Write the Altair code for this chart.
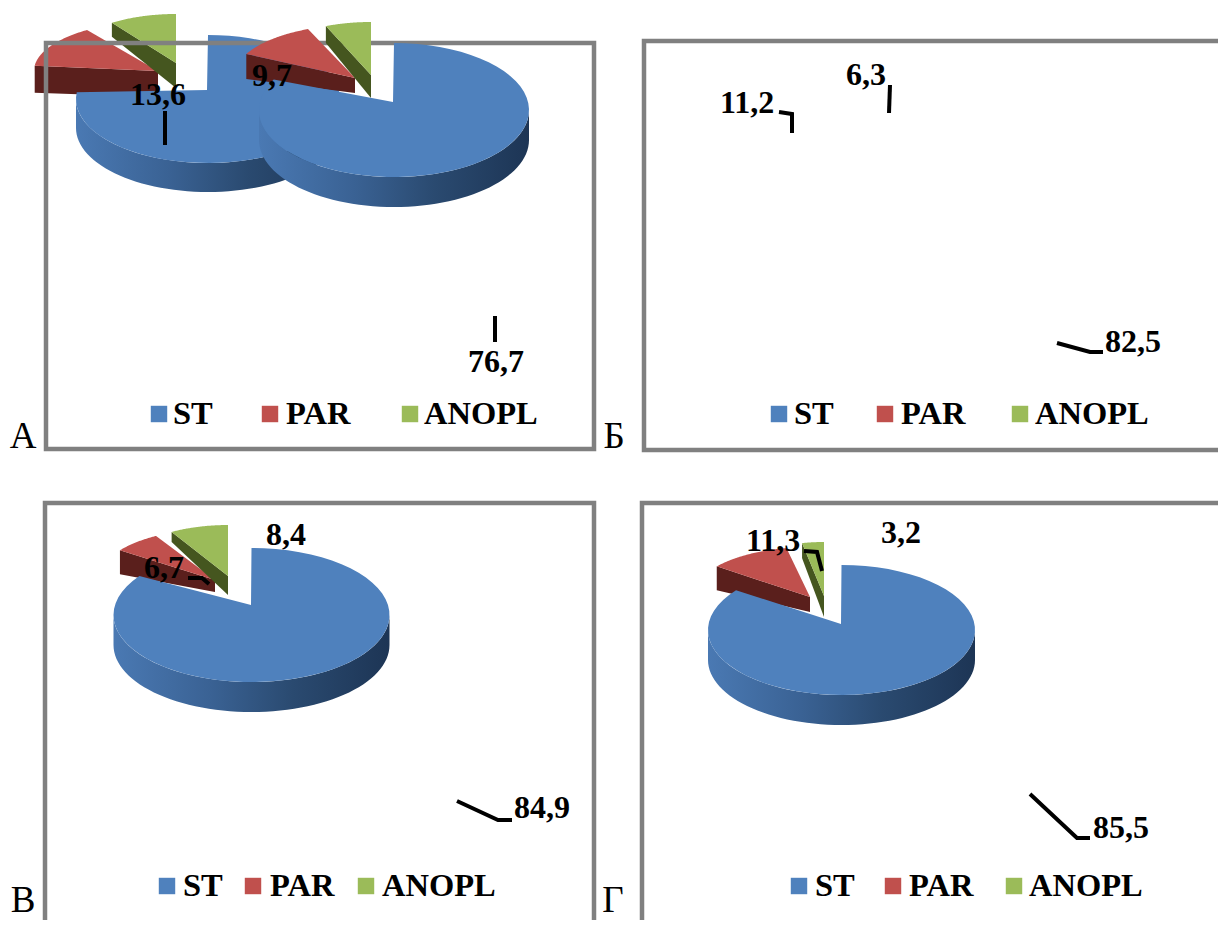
import math
import altair as alt

# --- values ---
series = ["ST", "PAR", "ANOPL"]
pie_values = {
    "A": [76.7, 13.6, 9.7],
    "B": [82.5, 11.2, 6.3],
    "V": [84.9, 6.7, 8.4],
    "G": [85.5, 11.3, 3.2],
}
TOP = "#4f81bd"; RED = "#c0504d"; GREEN = "#9bbb59"
RED_SIDE = "#5a1f1c"; GREEN_SIDE = "#45561f"
legend_colors = [TOP, RED, GREEN]

# pie layouts: ellipse centre, radii, depth, tip; exploded slices' tips, radii and side depths (outer, tip)
pie_layout = {
    "A": dict(c=(208, 99), r=(132, 64), d=29, tip=(207, 90),
              red=(158, 71), green=(176, 63), red_r=(124, 50), green_r=(112, 49), rd=(27, 26), gd=(14, 25)),
    "B": dict(c=(394, 110), r=(135, 67), d=30, tip=(393, 102),
              red=(355, 78), green=(371, 75), red_r=(122, 53), green_r=(117, 53), rd=(25, 15), gd=(17, 23)),
    "V": dict(c=(251.5, 615), r=(138, 67), d=30, tip=(251, 605),
              red=(215, 580), green=(228, 576), red_r=(117, 51), green_r=(112, 51), rd=(24, 12), gd=(10, 19)),
    "G": dict(c=(841.5, 630), r=(133.5, 65), d=30, tip=(841, 624),
              red=(810, 597), green=(824, 596), red_r=(118, 50), green_r=(110, 54), rd=(24, 15), gd=(15, 21)),
}
pie_order = ["A", "B", "V", "G"]

frames = [(46, 43, 594, 449), (644, 41, 1300, 450), (45, 503, 594, 1000), (642, 503, 1300, 1000)]
frame_color = "#808080"

labels = [
    ("13,6", 158, 95), ("9,7", 272, 76), ("76,7", 496, 362),
    ("11,2", 747, 103), ("6,3", 866, 75), ("82,5", 1133, 342),
    ("6,7", 164, 568), ("8,4", 286, 535), ("84,9", 542, 808),
    ("11,3", 773, 541), ("3,2", 901, 533), ("85,5", 1121, 828),
]
leaders = [
    [(165, 111), (165, 145)],
    [(495, 316), (495, 342)],
    [(779, 112), (792, 114), (792, 133)],
    [(890, 85), (889, 113)],
    [(1057, 343), (1090, 352), (1103, 352)],
    [(188, 578), (202, 578), (209, 584)],
    [(457, 801), (498, 820), (512, 820)],
    [(804, 551), (817, 552), (822, 571)],
    [(1030, 794), (1077, 838), (1090, 838)],
]
legend_rows = [
    (414, [159, 270, 410], [173, 286, 424]),
    (414, [779, 885, 1020], [794, 901, 1035]),
    (886, [167, 253, 366], [183, 270, 382]),
    (886, [799, 893, 1014], [815, 909, 1029]),
]
panel_letters = [("А", 23, 437), ("Б", 614, 437), ("В", 23, 901), ("Г", 613, 901)]

W, H = 1210, 912
xs = alt.Scale(domain=[8, 8 + W], range=[0, W])
ys = alt.Scale(domain=[8, 8 + H], range=[0, H])


def arc(center, radii, a0, a1, n=60):
    """Points on an ellipse, angles in percent of the circle, clockwise from 12 o'clock."""
    pts = []
    for i in range(n + 1):
        t = math.radians((a0 + (a1 - a0) * i / n) * 3.6)
        pts.append([center[0] + radii[0] * math.sin(t), center[1] - radii[1] * math.cos(t)])
    return pts


def feat(points):
    ring = [list(p) for p in points] + [list(points[0])]
    return {"type": "Feature", "properties": {}, "geometry": {"type": "Polygon", "coordinates": [ring]}}


def shape(points, fill):
    return alt.Chart(alt.Data(values=[feat(points)])).mark_geoshape(
        fill=fill, stroke=None, strokeWidth=0
    ).project(type="identity", scale=1, translate=[-8, -8])


side_gradient = alt.LinearGradient(
    gradient="linear", x1=0, x2=1, y1=0, y2=0,
    stops=[
        alt.GradientStop(color="#4a79b3", offset=0),
        alt.GradientStop(color="#3a6294", offset=0.35),
        alt.GradientStop(color="#2a4a70", offset=0.65),
        alt.GradientStop(color="#1d3555", offset=1),
    ],
)


def slice_layers(origin, radii, a0, a1, depths, color, side):
    """Exploded slice, a0..a1 percent counter-clockwise from 12 o'clock, side face on its far edge."""
    outer = arc(origin, radii, -a0, -a1)
    corner = outer[-1]
    side_poly = [origin, corner, [corner[0], corner[1] + depths[0]], [origin[0], origin[1] + depths[1]]]
    return [shape(side_poly, side), shape([origin] + outer, color)]


frame_data = [dict(x=a, y=b, x2=c, y2=d) for a, b, c, d in frames]
frame_layer = alt.Chart(alt.Data(values=frame_data)).mark_rect(
    fill="transparent", stroke=frame_color, strokeWidth=4.5
).encode(
    x=alt.X("x:Q", scale=xs, axis=None), x2="x2:Q",
    y=alt.Y("y:Q", scale=ys, axis=None), y2="y2:Q",
)


def pie_layers(key):
    st, par, an = pie_values[key]
    p = pie_layout[key]
    out = slice_layers(p["red"], p["red_r"], an, an + par, p["rd"], RED, RED_SIDE)
    out += slice_layers(p["green"], p["green_r"], 0, an, p["gd"], GREEN, GREEN_SIDE)
    bottom = arc(p["c"], p["r"], 25, 75)
    side_poly = bottom + [[x, y + p["d"]] for x, y in reversed(bottom)]
    out.append(shape(side_poly, side_gradient))
    out.append(shape([p["tip"]] + arc(p["c"], p["r"], 0, st), TOP))
    return out


# the first pie lies under the frame, the others over it
layers = pie_layers("A") + [frame_layer]
for key in pie_order[1:]:
    layers += pie_layers(key)

leader_rows = [dict(i=i, k=k, x=x, y=y) for i, line in enumerate(leaders) for k, (x, y) in enumerate(line)]
leader_layer = alt.Chart(alt.Data(values=leader_rows)).mark_line(
    color="black", strokeWidth=4, strokeJoin="miter"
).encode(
    x=alt.X("x:Q", scale=xs, axis=None),
    y=alt.Y("y:Q", scale=ys, axis=None),
    detail="i:N", order="k:Q",
)

label_layer = alt.Chart(alt.Data(values=[dict(t=t, x=x, y=y) for t, x, y in labels])).mark_text(
    font="Liberation Serif", fontWeight="bold", fontSize=32, color="black", align="center", baseline="middle"
).encode(
    x=alt.X("x:Q", scale=xs, axis=None), y=alt.Y("y:Q", scale=ys, axis=None), text="t:N"
)

sq_rows, tx_rows = [], []
for y, sqs, txs in legend_rows:
    for s, c, sx, tx in zip(series, legend_colors, sqs, txs):
        sq_rows.append(dict(x=sx, y=y, c=c))
        tx_rows.append(dict(x=tx, y=y, t=s))

legend_sq = alt.Chart(alt.Data(values=sq_rows)).mark_square(size=270, opacity=1, filled=True).encode(
    x=alt.X("x:Q", scale=xs, axis=None), y=alt.Y("y:Q", scale=ys, axis=None),
    color=alt.Color("c:N", scale=None),
)
legend_tx = alt.Chart(alt.Data(values=tx_rows)).mark_text(
    font="Liberation Serif", fontWeight="bold", fontSize=32.5, color="black", align="left", baseline="middle"
).encode(
    x=alt.X("x:Q", scale=xs, axis=None), y=alt.Y("y:Q", scale=ys, axis=None), text="t:N"
)
letter_layer = alt.Chart(alt.Data(values=[dict(t=t, x=x, y=y) for t, x, y in panel_letters])).mark_text(
    font="Liberation Serif", fontSize=37, color="black", align="center", baseline="middle"
).encode(
    x=alt.X("x:Q", scale=xs, axis=None), y=alt.Y("y:Q", scale=ys, axis=None), text="t:N"
)

chart = alt.layer(*layers, leader_layer, label_layer, legend_sq, legend_tx, letter_layer).properties(
    width=W, height=H, padding=0, autosize=alt.AutoSizeParams(type="none"), background="white",
).configure_view(stroke=None)

chart.save("out.html", embed_options={"renderer": "svg", "actions": False})
